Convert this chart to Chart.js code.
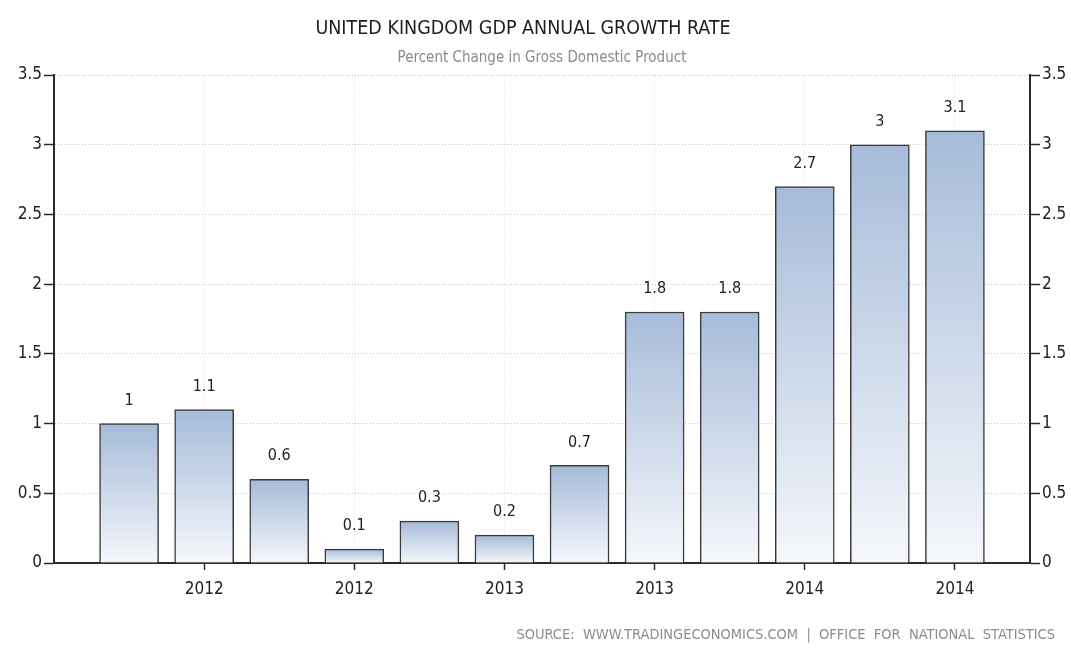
<!DOCTYPE html>
<html>
<head>
<meta charset="utf-8">
<script src="https://cdn.jsdelivr.net/npm/chart.js@4/dist/chart.umd.min.js"></script>
<style>
  html, body { margin: 0; padding: 0; background: #ffffff; }
  #wrap { position: relative; width: 1071px; height: 658px; }
</style>
</head>
<body>
<div id="wrap"><canvas id="chart" width="1071" height="658"></canvas></div>
<script>
const TITLE = "UNITED KINGDOM GDP ANNUAL GROWTH RATE";
const SUBTITLE = "Percent Change in Gross Domestic Product";
const SOURCE = "SOURCE:  WWW.TRADINGECONOMICS.COM  |  OFFICE  FOR  NATIONAL  STATISTICS";

// one bar per quarter, placed at slots 1..12
const quarterSlots = [1, 2, 3, 4, 5, 6, 7, 8, 9, 10, 11, 12];
const growthValues = [1, 1.1, 0.6, 0.1, 0.3, 0.2, 0.7, 1.8, 1.8, 2.7, 3, 3.1];

// x axis ticks only under every second bar
const xTickSlots = [2, 4, 6, 8, 10, 12];
const xTickLabels = ["2012", "2012", "2013", "2013", "2014", "2014"];

const FONT = "'DejaVu Sans Condensed', 'DejaVu Sans', sans-serif";
const AXIS_COLOR = "#2a2a2a";
const GRID_COLOR = "rgba(150, 150, 150, 0.55)";

const barGradient = (context) => {
  const chart = context.chart;
  const raw = context.raw;
  if (!chart.chartArea || !raw) {
    return "#c5d2e6";
  }
  const yScale = chart.scales.y;
  const top = yScale.getPixelForValue(raw.y);
  const bottom = yScale.getPixelForValue(0);
  const grad = chart.ctx.createLinearGradient(0, top, 0, bottom);
  grad.addColorStop(0, "#a6bbd9");
  grad.addColorStop(1, "#f5f7fb");
  return grad;
};

const valueLabelPlugin = {
  id: "valueLabels",
  afterDatasetsDraw(chart) {
    const meta = chart.getDatasetMeta(0);
    const ctx = chart.ctx;
    ctx.save();
    ctx.font = `16px ${FONT}`;
    ctx.fillStyle = "#222222";
    ctx.textAlign = "center";
    ctx.textBaseline = "middle";
    meta.data.forEach((bar, i) => {
      ctx.fillText(String(growthValues[i]), bar.x, bar.y - 23);
    });
    ctx.restore();
  },
};

const headerPlugin = {
  id: "header",
  afterDraw(chart) {
    const ctx = chart.ctx;
    ctx.save();
    ctx.textAlign = "center";
    ctx.textBaseline = "middle";
    ctx.fillStyle = "#1e1e1e";
    ctx.font = `19.5px ${FONT}`;
    ctx.fillText(TITLE, 523, 29);
    ctx.fillStyle = "#8a8a8a";
    ctx.font = `15px ${FONT}`;
    ctx.fillText(SUBTITLE, 542, 58);
    ctx.textAlign = "right";
    ctx.fillStyle = "#8c8c8c";
    ctx.font = `14.5px ${FONT}`;
    ctx.fillText(SOURCE, 1055, 635);
    ctx.restore();
  },
};

const yTicks = {
  color: "#222222",
  font: { family: FONT, size: 17 },
  padding: 2,
  stepSize: 0.5,
  callback: (value) => String(value),
};

new Chart(document.getElementById("chart"), {
  type: "bar",
  plugins: [valueLabelPlugin, headerPlugin],
  data: {
    datasets: [
      {
        label: "GDP Annual Growth Rate",
        data: quarterSlots.map((slot, i) => ({ x: slot, y: growthValues[i] })),
        backgroundColor: barGradient,
        borderColor: "#3a3a3a",
        borderWidth: 1.5,
        borderSkipped: "bottom",
        barThickness: 59,
      },
    ],
  },
  options: {
    responsive: false,
    animation: false,
    layout: { padding: { top: 75, right: 0, bottom: 0, left: 0 } },
    plugins: {
      legend: { display: false },
      tooltip: { enabled: false },
    },
    scales: {
      x: {
        type: "linear",
        min: 0,
        max: 13,
        offset: false,
        afterBuildTicks(scale) {
          scale.ticks = xTickSlots.map((v) => ({ value: v }));
        },
        afterFit(scale) {
          scale.height = 95;
        },
        ticks: {
          color: "#222222",
          font: { family: FONT, size: 17 },
          padding: 9,
          maxRotation: 0,
          autoSkip: false,
          callback: (value) => {
            const idx = xTickSlots.indexOf(value);
            return idx >= 0 ? xTickLabels[idx] : "";
          },
        },
        grid: {
          offset: false,
          color: "rgba(170, 170, 170, 0.35)",
          tickColor: AXIS_COLOR,
          tickLength: 7,
          tickWidth: 1.5,
          tickBorderDash: [],
        },
        border: { color: AXIS_COLOR, width: 2, dash: [1, 2] },
      },
      y: {
        position: "left",
        min: 0,
        max: 3.5,
        afterFit(scale) {
          scale.width = 54;
        },
        ticks: yTicks,
        grid: {
          color: GRID_COLOR,
          tickColor: AXIS_COLOR,
          tickLength: 10,
          tickWidth: 1.5,
          tickBorderDash: [],
        },
        border: { color: AXIS_COLOR, width: 2, dash: [1, 2] },
      },
      y2: {
        position: "right",
        min: 0,
        max: 3.5,
        afterFit(scale) {
          scale.width = 41;
        },
        ticks: yTicks,
        grid: {
          drawOnChartArea: false,
          tickColor: AXIS_COLOR,
          tickLength: 10,
          tickWidth: 1.5,
          tickBorderDash: [],
        },
        border: { color: AXIS_COLOR, width: 2 },
      },
    },
  },
});
</script>
</body>
</html>
